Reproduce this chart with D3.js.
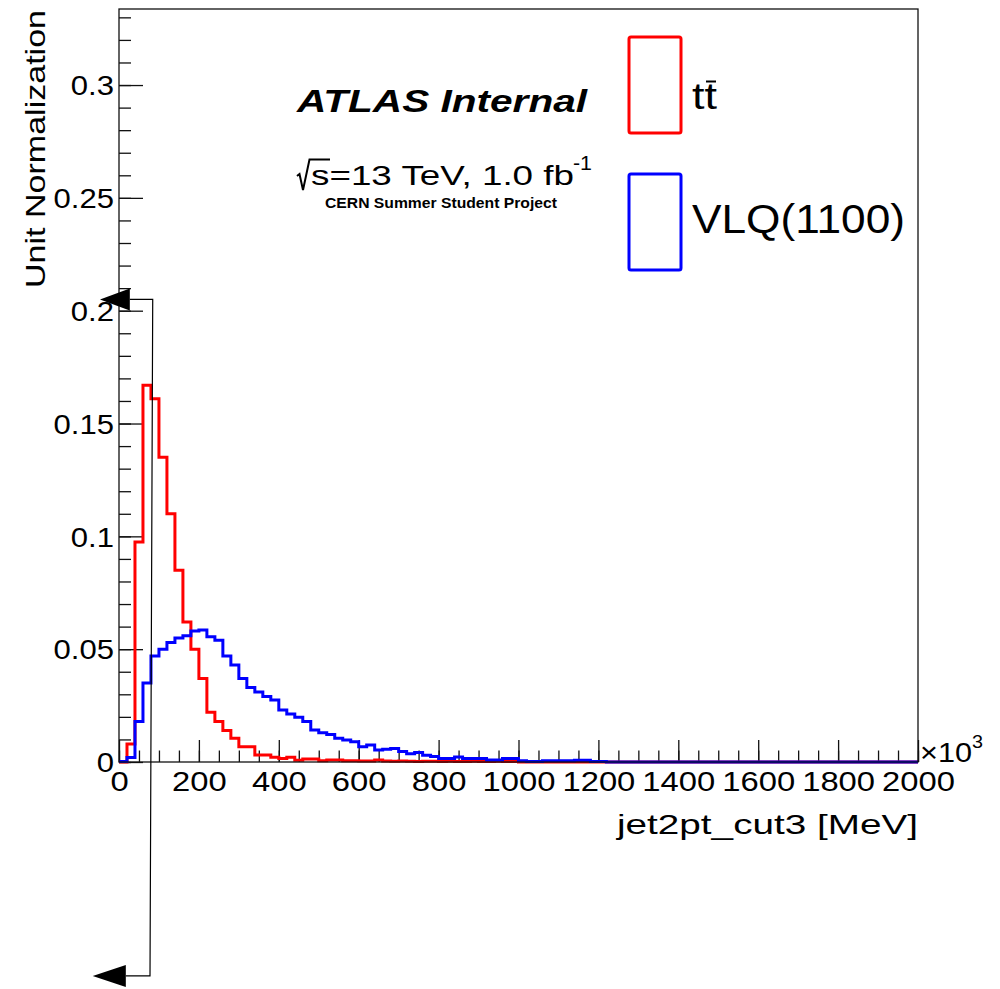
<!DOCTYPE html>
<meta charset="utf-8" />
<style>
  body {
    margin: 0px;
    background: #fff;
  }

  text {
    font-family: "Liberation Sans", Arial, Helvetica, sans-serif;
    fill: #000;
  }

  .axis path {
    display: none;
  }

  .axis line {
    stroke: #111;
    stroke-width: 1.3px;
  }

  .frame {
    fill: none;
    stroke: #111;
    stroke-width: 1.3px;
  }

  .hist {
    fill: none;
    stroke-width: 3px;
  }

  .legend-box {
    fill: none;
    stroke-width: 3px;
  }
</style>
<body>
<script src="https://d3js.org/d3.v7.min.js"></script>
<script>
  var width = 1000,
    height = 989;

  // histogram binning: 100 bins of 20 (x10^3 MeV) from 0 to 2000
  var binLow = 0,
    binWidth = 20;

  // unit-normalised bin contents
  var ttbar = [
    0, 0.008, 0.0975, 0.167, 0.161, 0.135, 0.11, 0.085, 0.062, 0.05,
    0.037, 0.022, 0.018, 0.014, 0.0105, 0.0068, 0.0068, 0.0031, 0.0031, 0.0021,
    0.0016, 0.0021, 0.0008, 0.0013, 0.0013, 0.0006, 0.0009, 0.0009, 0.0005, 0.0005,
    0.0004, 0.0004, 0.0009, 0.0004, 0.0003, 0.0004, 0.0003, 0.0002, 0.0003, 0.0003,
    0.0002, 0.0003, 0.0002, 0.0002, 0.0003, 0.0002, 0.0002, 0.0003, 0.0002, 0.0002,
    0, 0, 0, 0, 0, 0, 0, 0, 0, 0,
    0, 0, 0, 0, 0, 0, 0, 0, 0, 0,
    0, 0, 0, 0, 0, 0, 0, 0, 0, 0,
    0, 0, 0, 0, 0, 0, 0, 0, 0, 0,
    0, 0, 0, 0, 0, 0, 0, 0, 0, 0,
  ];

  var vlq = [
    0.0002, 0.002, 0.018, 0.035, 0.047, 0.05, 0.053, 0.055, 0.056, 0.058,
    0.0585, 0.0555, 0.054, 0.047, 0.043, 0.037, 0.033, 0.031, 0.029, 0.0275,
    0.023, 0.0213, 0.0198, 0.0179, 0.0142, 0.013, 0.0122, 0.0105, 0.0097, 0.009,
    0.0068, 0.0075, 0.0053, 0.0056, 0.006, 0.0046, 0.0037, 0.0042, 0.003, 0.0024,
    0.0016, 0.0016, 0.0022, 0.0016, 0.0016, 0.0016, 0.0009, 0.0009, 0.0015, 0.0015,
    0.0006, 0.0002, 0.0002, 0.0006, 0.0006, 0.0006, 0.0006, 0.0008, 0.0008, 0.0002,
    0.0002, 0, 0, 0, 0, 0, 0, 0, 0, 0,
    0, 0, 0, 0, 0, 0, 0, 0, 0, 0,
    0, 0, 0, 0, 0, 0, 0, 0, 0, 0,
    0, 0, 0, 0, 0, 0, 0, 0, 0, 0,
  ];

  var xTicks = [0, 200, 400, 600, 800, 1000, 1200, 1400, 1600, 1800, 2000];
  var xTickLabels = ["0", "200", "400", "600", "800", "1000", "1200", "1400", "1600", "1800", "2000"];
  var yTicks = [0, 0.05, 0.1, 0.15, 0.2, 0.25, 0.3];
  var yTickLabels = ["0", "0.05", "0.1", "0.15", "0.2", "0.25", "0.3"];

  var seriesNames = ["tt", "VLQ(1100)"];
  var seriesColors = ["#ff0000", "#0000ff"];

  // stray arrow annotation, in data units (x: 10^3 MeV, y: normalisation)
  var arrowLine = [
    [27, 0.205],
    [84.4, 0.205],
    [77.6, -0.0948],
    [17, -0.0948],
  ];
  var arrowTips = [
    [-47.6, 0.205],
    [-65.8, -0.0948],
  ];

  var x = d3.scaleLinear().domain([0, 2000]).range([119, 918]);
  var y = d3.scaleLinear().domain([0, 0.3337]).range([762, 9]);

  var svg = d3
    .select("body")
    .append("svg")
    .attr("width", width)
    .attr("height", height);

  // minor ticks
  svg
    .append("g")
    .attr("class", "axis")
    .attr("transform", "translate(0,762)")
    .call(
      d3.axisBottom(x).tickValues(d3.range(0, 2001, 50)).tickSize(-11.5).tickFormat("")
    );
  svg
    .append("g")
    .attr("class", "axis")
    .attr("transform", "translate(119,0)")
    .call(
      d3.axisLeft(y).tickValues(d3.range(0, 0.331, 0.01)).tickSize(-12).tickFormat("")
    );

  // major ticks + labels
  var xAxis = svg
    .append("g")
    .attr("class", "axis")
    .attr("transform", "translate(0,762)")
    .call(
      d3.axisBottom(x).tickValues(xTicks).tickSize(-22).tickFormat(function (d, i) {
        return xTickLabels[i];
      })
    );
  xAxis
    .selectAll("text")
    .attr("y", 0)
    .attr("dy", 0)
    .attr("transform", "translate(0,29) scale(1.17,1)")
    .style("font-size", "28px");

  var yAxis = svg
    .append("g")
    .attr("class", "axis")
    .attr("transform", "translate(119,0)")
    .call(
      d3.axisLeft(y).tickValues(yTicks).tickSize(-24).tickFormat(function (d, i) {
        return yTickLabels[i];
      })
    );
  yAxis
    .selectAll("text")
    .attr("x", 0)
    .attr("dy", "0.36em")
    .attr("transform", "translate(-5,0) scale(1.15,1)")
    .style("font-size", "27px");

  // histograms (step outlines)
  var line = d3
    .line()
    .x(function (d) { return x(d[0]); })
    .y(function (d) { return y(d[1]); })
    .curve(d3.curveStepAfter);

  [ttbar, vlq].forEach(function (values, s) {
    var pts = values.map(function (v, i) {
      return [binLow + i * binWidth, v];
    });
    pts.push([binLow + values.length * binWidth, values[values.length - 1]]);
    svg
      .append("path")
      .attr("class", "hist")
      .attr("d", line(pts))
      .style("stroke", seriesColors[s]);
  });

  // frame
  svg
    .append("rect")
    .attr("class", "frame")
    .attr("x", x(0))
    .attr("y", y(0.3337))
    .attr("width", x(2000) - x(0))
    .attr("height", y(0) - y(0.3337));

  // arrow annotation
  svg
    .append("path")
    .attr("d", d3.line().x(function (d) { return x(d[0]); }).y(function (d) { return y(d[1]); })(arrowLine))
    .style("fill", "none")
    .style("stroke", "#000")
    .style("stroke-width", "1.2px");

  arrowTips.forEach(function (t, i) {
    var base = arrowLine[i === 0 ? 0 : arrowLine.length - 1];
    var tx = x(t[0]),
      ty = y(t[1]),
      bx = x(base[0]);
    svg
      .append("path")
      .attr("d", "M" + tx + "," + ty + "L" + bx + "," + (ty - 11) + "L" + bx + "," + (ty + 11) + "Z")
      .style("fill", "#000");
  });

  function label(txt, px, py, size, len, extra) {
    var t = svg
      .append("text")
      .attr("x", px)
      .attr("y", py)
      .style("font-size", size + "px")
      .text(txt);
    if (len) t.attr("textLength", len).attr("lengthAdjust", "spacingAndGlyphs");
    if (extra) extra(t);
    return t;
  }

  // axis titles
  label("jet2pt_cut3 [MeV]", 918, 834, 28, 301, function (t) {
    t.attr("text-anchor", "end");
  });
  svg
    .append("text")
    .attr("transform", "translate(45,10) rotate(-90)")
    .attr("text-anchor", "end")
    .attr("textLength", 278)
    .attr("lengthAdjust", "spacingAndGlyphs")
    .style("font-size", "28px")
    .text("Unit Normalization");

  label("\u00d710", 920, 762, 28, 52);
  label("3", 972, 748, 19, 11);

  // ATLAS label
  label("ATLAS Internal", 297, 112, 31, 290, function (t) {
    t.style("font-weight", "bold").style("font-style", "italic");
  });
  svg
    .append("path")
    .attr("d", "M297,176L299.5,174L303,190L309.5,159.5L330,159.5")
    .style("fill", "none")
    .style("stroke", "#000")
    .style("stroke-width", "2px");
  label("s=13 TeV, 1.0 fb", 311, 185, 28, 263);
  label("-1", 573, 170, 20, 19);
  label("CERN Summer Student Project", 325, 208, 14, 232, function (t) {
    t.style("font-weight", "bold");
  });

  // legend
  var legendY = [37, 174];
  seriesNames.forEach(function (name, i) {
    svg
      .append("rect")
      .attr("class", "legend-box")
      .attr("x", 629)
      .attr("y", legendY[i])
      .attr("width", 52)
      .attr("height", 96)
      .attr("rx", 2)
      .style("stroke", seriesColors[i]);
  });
  label(seriesNames[0], 692, 109, 36, 25);
  svg
    .append("line")
    .attr("x1", 706)
    .attr("x2", 716)
    .attr("y1", 81.5)
    .attr("y2", 81.5)
    .style("stroke", "#000")
    .style("stroke-width", "2px");
  label(seriesNames[1], 692, 233, 40, 213);
</script>
</body>
